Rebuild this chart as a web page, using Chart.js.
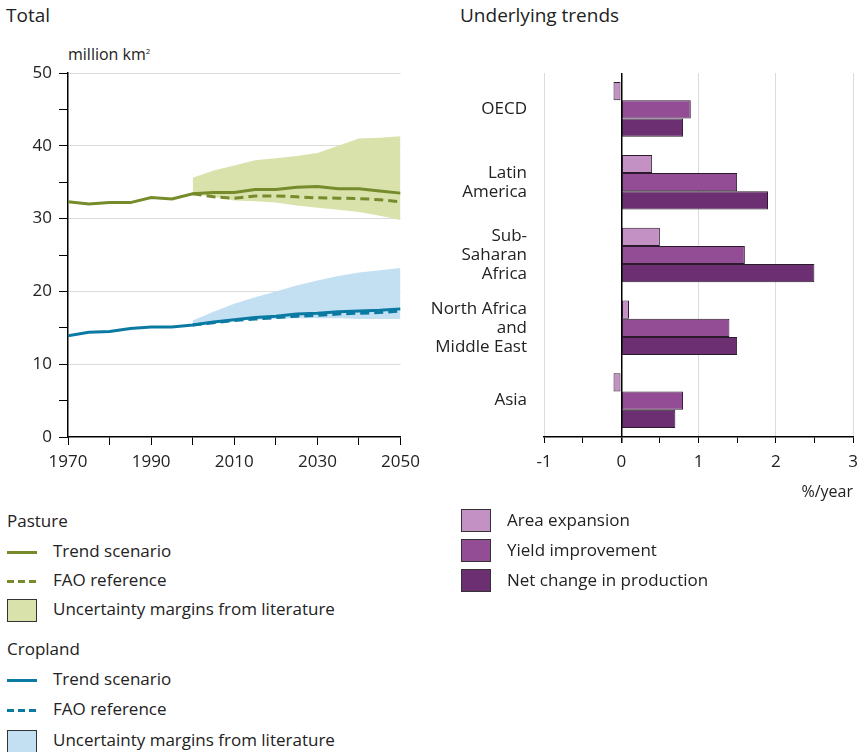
<!DOCTYPE html>
<html>
<head>
<meta charset="utf-8">
<script src="https://cdn.jsdelivr.net/npm/chart.js@4"></script>
<style>
  body { margin: 0; background: #fff; font-family: "Open Sans", sans-serif; color: #222; }
  #page { position: relative; width: 867px; height: 752px; overflow: hidden; }
  .abs { position: absolute; white-space: nowrap; }
  .row { position: absolute; height: 20px; line-height: 20px; font-size: 17px; white-space: nowrap; }
  .line { position: absolute; left: 7px; width: 30px; height: 3px; top: 10px; }
  .box { position: absolute; width: 28px; height: 21px; border: 1px solid #333; }
</style>
</head>
<body>
<div id="page">
  <div class="abs" style="left:6px; top:2px; font-size:19px;">Total</div>
  <div class="abs" style="left:460px; top:2px; font-size:19px;">Underlying trends</div>
  <div class="abs" style="left:68px; top:43px; font-size:16px;">million km<sup style="font-size:8px;">2</sup></div>

  <canvas id="left" width="427" height="480" style="position:absolute; left:0; top:0;"></canvas>
  <canvas id="right" width="447" height="505" style="position:absolute; left:420px; top:0;"></canvas>

  <!-- left legend -->
  <div class="row" style="left:7px; top:511px;">Pasture</div>
  <div class="row" style="left:0; top:541px; width:420px;"><div class="line" style="background:#768b2b;"></div><span style="position:absolute; left:53px;">Trend scenario</span></div>
  <div class="row" style="left:0; top:570px; width:420px;"><div class="line" style="background:repeating-linear-gradient(to right,#768b2b 0 7px,transparent 7px 11px);"></div><span style="position:absolute; left:53px;">FAO reference</span></div>
  <div class="row" style="left:0; top:599px; width:420px;"><div class="box" style="left:7px; top:0; background:#dae2ac;"></div><span style="position:absolute; left:53px;">Uncertainty margins from literature</span></div>
  <div class="row" style="left:7px; top:639px;">Cropland</div>
  <div class="row" style="left:0; top:669px; width:420px;"><div class="line" style="background:#0b7aa3;"></div><span style="position:absolute; left:53px;">Trend scenario</span></div>
  <div class="row" style="left:0; top:699px; width:420px;"><div class="line" style="background:repeating-linear-gradient(to right,#0b7aa3 0 7px,transparent 7px 11px);"></div><span style="position:absolute; left:53px;">FAO reference</span></div>
  <div class="row" style="left:0; top:730px; width:420px;"><div class="box" style="left:7px; top:0; background:#c3e0f3;"></div><span style="position:absolute; left:53px;">Uncertainty margins from literature</span></div>

  <!-- right legend -->
  <div class="row" style="left:0; top:510px; width:867px;"><div class="box" style="left:461px; top:-1px; background:#c391c4;"></div><span style="position:absolute; left:507px;">Area expansion</span></div>
  <div class="row" style="left:0; top:540px; width:867px;"><div class="box" style="left:461px; top:-1px; background:#934d95;"></div><span style="position:absolute; left:507px;">Yield improvement</span></div>
  <div class="row" style="left:0; top:570px; width:867px;"><div class="box" style="left:461px; top:-1px; background:#6b2f72;"></div><span style="position:absolute; left:507px;">Net change in production</span></div>
</div>

<script>
// Total land use, million km2
const years = [1970, 1975, 1980, 1985, 1990, 1995, 2000, 2005, 2010, 2015, 2020, 2025, 2030, 2035, 2040, 2045, 2050];
const pastureTrend = [32.3, 32.0, 32.2, 32.2, 32.9, 32.7, 33.4, 33.6, 33.6, 34.0, 34.0, 34.3, 34.4, 34.1, 34.1, 33.8, 33.5];
const croplandTrend = [13.9, 14.4, 14.5, 14.9, 15.1, 15.1, 15.4, 15.8, 16.1, 16.4, 16.6, 16.9, 17.0, 17.2, 17.3, 17.4, 17.6];

const faoYears = [2000, 2005, 2010, 2015, 2020, 2025, 2030, 2035, 2040, 2045, 2050];
const pastureFao = [33.4, 33.0, 32.8, 33.1, 33.1, 33.0, 32.85, 32.8, 32.75, 32.6, 32.3];
const croplandFao = [15.4, 15.7, 16.0, 16.2, 16.4, 16.6, 16.7, 16.9, 17.0, 17.1, 17.3];

const bandYears = [2000, 2005, 2010, 2015, 2020, 2025, 2030, 2035, 2040, 2045, 2050];
const pastureHigh = [35.6, 36.6, 37.3, 38.0, 38.3, 38.6, 39.0, 40.0, 41.0, 41.1, 41.3];
const pastureLow = [33.4, 33.0, 32.5, 32.4, 32.2, 31.8, 31.5, 31.2, 30.9, 30.4, 29.8];
const croplandHigh = [16.0, 17.2, 18.3, 19.2, 20.0, 20.8, 21.5, 22.1, 22.6, 22.9, 23.2];
const croplandLow = [15.4, 15.7, 16.0, 16.1, 16.2, 16.3, 16.3, 16.3, 16.2, 16.2, 16.2];

// Underlying trends, %/year
const regions = [['OECD'], ['Latin', 'America'], ['Sub-', 'Saharan', 'Africa'], ['North Africa', 'and', 'Middle East'], ['Asia']];
const areaExpansion = [-0.1, 0.4, 0.5, 0.1, -0.1];
const yieldImprovement = [0.9, 1.5, 1.6, 1.4, 0.8];
const netChange = [0.8, 1.9, 2.5, 1.5, 0.7];

const FONT = '"Open Sans", sans-serif';

function pts(xs, ys) {
    return xs.map((x, i) => ({ x: x, y: ys[i] }));
}

function band(xs, ys, colour, fillTarget) {
    return {
        data: pts(xs, ys),
        borderWidth: 0,
        pointRadius: 0,
        backgroundColor: colour,
        fill: fillTarget,
        order: 2
    };
}

function line(xs, ys, colour, dash) {
    return {
        data: pts(xs, ys),
        borderColor: colour,
        borderWidth: 3,
        borderDash: dash || [],
        pointRadius: 0,
        fill: false,
        tension: 0,
        order: dash ? 1 : 0
    };
}

new Chart(document.getElementById('left'), {
    type: 'line',
    data: {
        datasets: [
            band(bandYears, pastureHigh, '#dae2ac', '+1'),
            band(bandYears, pastureLow, '#dae2ac', false),
            band(bandYears, croplandHigh, '#c3e0f3', '+1'),
            band(bandYears, croplandLow, '#c3e0f3', false),
            line(years, pastureTrend, '#768b2b'),
            line(faoYears, pastureFao, '#768b2b', [9, 5]),
            line(years, croplandTrend, '#0b7aa3'),
            line(faoYears, croplandFao, '#0b7aa3', [9, 5])
        ]
    },
    options: {
        responsive: false,
        animation: false,
        layout: { padding: { top: 73, right: 20, left: 0, bottom: 0 } },
        plugins: { legend: { display: false }, tooltip: { enabled: false } },
        scales: {
            x: {
                type: 'linear',
                min: 1970,
                max: 2050,
                afterFit: s => { s.height = 43; },
                border: { color: '#000', width: 1.5 },
                grid: { drawOnChartArea: false, tickColor: '#000', tickLength: 8 },
                ticks: {
                    stepSize: 10,
                    padding: 7,
                    color: '#222',
                    font: { family: FONT, size: 17 },
                    maxRotation: 0,
                    callback: v => ((v - 1970) % 20 === 0 ? String(v) : '')
                }
            },
            y: {
                min: 0,
                max: 50,
                afterFit: s => { s.width = 68; },
                border: { color: '#000', width: 1.5 },
                grid: {
                    color: c => (c.tick && c.tick.value % 10 === 0 && c.tick.value > 0 ? '#dcdcdc' : 'rgba(0,0,0,0)'),
                    tickColor: '#000',
                    tickLength: 9
                },
                ticks: {
                    stepSize: 5,
                    padding: 7,
                    color: '#222',
                    font: { family: FONT, size: 17 },
                    callback: v => (v % 10 === 0 ? String(v) : '')
                }
            }
        }
    }
});

function barSet(values, colour) {
    return {
        data: values,
        backgroundColor: colour,
        borderColor: '#2a1a2c',
        borderWidth: 1,
        borderSkipped: false,
        barPercentage: 1,
        categoryPercentage: 0.75
    };
}

new Chart(document.getElementById('right'), {
    type: 'bar',
    data: {
        labels: regions,
        datasets: [
            barSet(areaExpansion, '#c391c4'),
            barSet(yieldImprovement, '#934d95'),
            barSet(netChange, '#6b2f72')
        ]
    },
    options: {
        indexAxis: 'y',
        responsive: false,
        animation: false,
        layout: { padding: { top: 73, right: 14, left: 0, bottom: 0 } },
        plugins: { legend: { display: false }, tooltip: { enabled: false } },
        scales: {
            x: {
                min: -1,
                max: 3,
                afterFit: s => { s.height = 68; },
                border: { color: '#000', width: 1.5 },
                grid: {
                    color: c => {
                        if (!c.tick) return 'rgba(0,0,0,0)';
                        if (c.tick.value === 0) return '#000';
                        return Number.isInteger(c.tick.value) ? '#dcdcdc' : 'rgba(0,0,0,0)';
                    },
                    lineWidth: c => (c.tick && c.tick.value === 0 ? 1.5 : 1),
                    tickColor: '#000',
                    tickLength: 6
                },
                ticks: {
                    stepSize: 0.5,
                    padding: 9,
                    color: '#222',
                    font: { family: FONT, size: 17 },
                    maxRotation: 0,
                    callback: v => (Number.isInteger(v) ? String(v) : '')
                },
                title: {
                    display: true,
                    text: '%/year',
                    align: 'end',
                    color: '#222',
                    font: { family: FONT, size: 16 },
                    padding: { top: 0, bottom: 3 }
                }
            },
            y: {
                afterFit: s => { s.width = 124; },
                border: { display: false },
                grid: { display: false },
                ticks: {
                    padding: 9,
                    color: '#222',
                    font: { family: FONT, size: 17, lineHeight: 1.12 }
                }
            }
        }
    }
});
</script>
</body>
</html>
